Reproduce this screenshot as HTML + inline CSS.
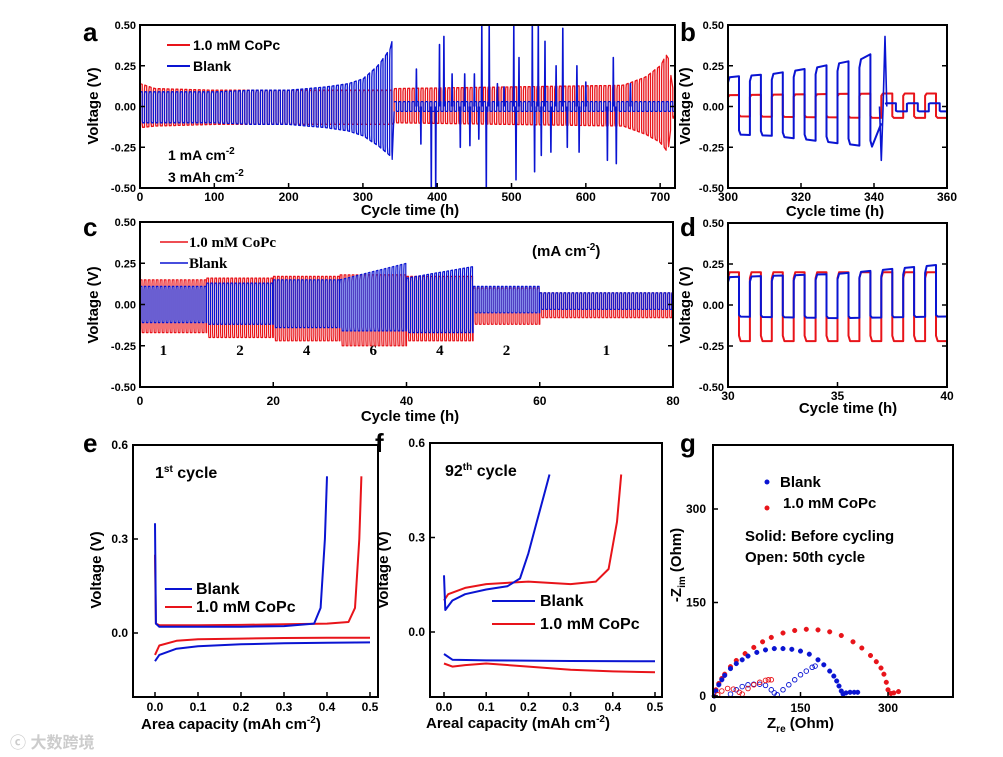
<!DOCTYPE html>
<html><head><meta charset="utf-8">
<style>
html,body{margin:0;padding:0;background:#fff;}
svg{display:block;font-family:"Liberation Sans",Arial,sans-serif;font-weight:bold;}
.serif{font-family:"Liberation Serif","Times New Roman",serif;}
</style></head>
<body>
<svg id="fig" width="1003" height="757" viewBox="0 0 1003 757" xmlns="http://www.w3.org/2000/svg">
<text x="10" y="748" font-size="16" fill="#ccc" font-family="Liberation Sans, Noto Sans CJK SC, sans-serif">ⓒ 大数跨境</text>
</svg>
<script>
// ---------- DATA ----------
const aBlueEnvT=[0,50,100,150,200,250,280,300,320,336,341,342,720];
const aBlueHi=[0.09,0.09,0.09,0.10,0.10,0.12,0.14,0.17,0.25,0.35,0.43,0.03,0.03];
const aBlueLo=[-0.10,-0.10,-0.10,-0.11,-0.11,-0.13,-0.15,-0.18,-0.24,-0.30,-0.34,-0.03,-0.03];
const aRedEnvT=[0,20,100,340,342,650,680,700,710,716,720];
const aRedHi=[0.14,0.11,0.10,0.10,0.11,0.13,0.18,0.25,0.33,0.12,0.10];
const aRedLo=[-0.13,-0.12,-0.11,-0.11,-0.10,-0.12,-0.17,-0.22,-0.28,-0.08,-0.05];
const aSpikeT=[372,378,392,398,403,409,420,431,437,444,450,456,460,466,470,481,490,503,506,510,528,531,536,540,545,553,560,569,575,588,591,600,629,637,641,660];
const aSpikeV=[0.23,-0.23,-0.5,-0.5,0.38,0.43,0.2,-0.25,0.2,-0.24,0.2,-0.2,0.5,-0.5,0.5,0.14,0.12,0.5,-0.45,0.3,0.5,-0.4,0.5,-0.3,0.4,-0.28,0.25,0.48,-0.25,0.25,-0.28,0.15,-0.33,0.3,-0.35,0.14];
const bBlueEnvT=[300,312,324,336,341,342.5,360];
const bBlueHi=[0.18,0.20,0.24,0.29,0.34,0.02,0.02];
const bBlueLo=[-0.17,-0.18,-0.21,-0.24,-0.25,-0.03,-0.03];
const bRedEnvT=[300,342,360];
const bRedHi=[0.07,0.08,0.08];
const bRedLo=[-0.06,-0.07,-0.07];
const bSpikeT=[342,343];
const bSpikeV=[-0.33,0.43];
const cSegStart=[0,10,20,30,40,50,60];
const cSegEnd=[10,20,30,40,50,60,80];
const cRate=["1","2","4","6","4","2","1"];
const cBlueHiStart=[0.11,0.13,0.15,0.15,0.16,0.11,0.07];
const cBlueHiEnd=[0.11,0.13,0.15,0.25,0.23,0.11,0.07];
const cBlueLo=[-0.11,-0.12,-0.14,-0.16,-0.17,-0.05,-0.03];
const cRedHi=[0.15,0.16,0.17,0.18,0.17,0.10,0.07];
const cRedLo=[-0.17,-0.20,-0.22,-0.25,-0.22,-0.12,-0.08];
const dBlueEnvT=[30,35,40];
const dBlueHi=[0.17,0.19,0.25];
const dBlueLo=[-0.07,-0.08,-0.07];
const dRedEnvT=[30,40];
const dRedHi=[0.20,0.20];
const dRedLo=[-0.22,-0.22];
const eBlueChgX=[0,0.002,0.01,0.1,0.2,0.3,0.37,0.385,0.395,0.40];
const eBlueChgY=[0.35,0.03,0.02,0.02,0.02,0.022,0.03,0.08,0.3,0.5];
const eBlueDisX=[0,0.01,0.05,0.1,0.2,0.3,0.4,0.5];
const eBlueDisY=[-0.09,-0.07,-0.05,-0.042,-0.036,-0.033,-0.031,-0.03];
const eRedChgX=[0,0.002,0.01,0.1,0.2,0.3,0.4,0.45,0.465,0.475,0.48];
const eRedChgY=[0.25,0.03,0.025,0.025,0.026,0.028,0.03,0.035,0.08,0.3,0.5];
const eRedDisX=[0,0.01,0.05,0.1,0.2,0.3,0.4,0.5];
const eRedDisY=[-0.07,-0.04,-0.025,-0.02,-0.018,-0.016,-0.015,-0.015];
const fBlueChgX=[0,0.003,0.02,0.05,0.1,0.15,0.18,0.2,0.22,0.24,0.25];
const fBlueChgY=[0.18,0.07,0.1,0.12,0.135,0.145,0.17,0.25,0.35,0.45,0.5];
const fBlueDisX=[0,0.02,0.1,0.3,0.5];
const fBlueDisY=[-0.07,-0.088,-0.09,-0.092,-0.093];
const fRedChgX=[0,0.01,0.05,0.1,0.2,0.3,0.36,0.39,0.41,0.42];
const fRedChgY=[0.1,0.12,0.14,0.152,0.16,0.152,0.16,0.2,0.35,0.5];
const fRedDisX=[0,0.02,0.05,0.1,0.2,0.3,0.4,0.5];
const fRedDisY=[-0.1,-0.11,-0.105,-0.1,-0.11,-0.12,-0.125,-0.128];
const gBlueSolidX=[2,5,10,15,20,30,40,50,60,75,90,105,120,135,150,165,180,190,200,207,212,216,220,223,228,235,242,248];
const gBlueSolidY=[0,8,18,26,33,44,52,58,64,70,74,76,76,75,72,67,58,50,40,32,24,16,8,3,5,6,6,6];
const gRedSolidX=[2,5,10,15,20,30,40,55,70,85,100,120,140,160,180,200,220,240,255,270,280,288,293,297,300,305,310,318];
const gRedSolidY=[0,10,20,28,35,47,57,68,78,87,94,101,105,107,106,103,97,87,77,65,55,45,35,22,10,4,5,7];
const gBlueOpenX=[30,40,50,60,70,80,90,100,105,110,120,130,140,150,160,170,175];
const gBlueOpenY=[3,10,15,18,19,19,17,10,5,2,10,18,26,34,40,46,48];
const gRedOpenX=[8,15,25,35,45,50,60,70,80,90,95,100];
const gRedOpenY=[2,8,12,11,6,3,12,18,22,25,26,26];
const voltTicks=[0.5,0.25,0,-0.25,-0.5];
const voltTickLabels=["0.50","0.25","0.00","-0.25","-0.50"];
const aXTicks=[0,100,200,300,400,500,600,700];
const bXTicks=[300,320,340,360];
const cXTicks=[0,20,40,60,80];
const dXTicks=[30,35,40];
const capXTicks=[0,0.1,0.2,0.3,0.4,0.5];
const capXLabels=["0.0","0.1","0.2","0.3","0.4","0.5"];
const capYTicks=[0,0.3,0.6];
const capYLabels=["0.0","0.3","0.6"];
const gTicks=[0,150,300];

// ---------- HELPERS ----------
const NS="http://www.w3.org/2000/svg";
const svg=document.getElementById('fig');
const RED="#e8141a", BLUE="#0a14d2";
function mk(tag,parent){const e=document.createElementNS(NS,tag);(parent||svg).appendChild(e);return e;}
function lin(d0,d1,r0,r1){return v=>r0+(v-d0)*(r1-r0)/(d1-d0);}
function interp(T,V,t){if(t<=T[0])return V[0];for(let i=1;i<T.length;i++){if(t<=T[i]){const f=(t-T[i-1])/(T[i]-T[i-1]);return V[i-1]+f*(V[i]-V[i-1]);}}return V[V.length-1];}
function txt(s,x,y,size,anchor,name,parent){const t=mk('text',parent);t.setAttribute('x',x);t.setAttribute('y',y);t.setAttribute('font-size',size);t.setAttribute('text-anchor',anchor||'start');t.textContent=s;


return t;}
function line(x1,y1,x2,y2,color,w,name,parent){const l=mk('line',parent);l.setAttribute('x1',x1);l.setAttribute('y1',y1);l.setAttribute('x2',x2);l.setAttribute('y2',y2);l.setAttribute('stroke',color);l.setAttribute('stroke-width',w);


return l;}
function poly(pts,color,w,name,parent){const p=mk('polyline',parent);p.setAttribute('points',pts.map(q=>q[0].toFixed(1)+','+q[1].toFixed(1)).join(' '));p.setAttribute('fill','none');p.setAttribute('stroke',color);p.setAttribute('stroke-width',w);p.setAttribute('stroke-linejoin','round');


return p;}
function group(name){const g=mk('g');


return g;}
function frame(x0,y0,x1,y1,g){const r=mk('rect',g);r.setAttribute('x',x0);r.setAttribute('y',y0);r.setAttribute('width',x1-x0);r.setAttribute('height',y1-y0);r.setAttribute('fill','none');r.setAttribute('stroke','#000');r.setAttribute('stroke-width',2);

}
function wave(T,Hi,Lo,t0,t1,period,phase,sx,sy){const pts=[];const half=period/2;let t=t0;let k=phase;const clip=v=>Math.max(-0.5,Math.min(0.5,v));
while(t<t1-1e-9){const te=Math.min(t+half,t1);const hiSeg=(k%2===0);const v0=hiSeg?interp(T,Hi,t):interp(T,Lo,t);const v1=hiSeg?interp(T,Hi,te):interp(T,Lo,te);
const vs=hiSeg? v0*0.82 : v0*0.85;pts.push([sx(t),sy(clip(vs))]);pts.push([sx(t+(te-t)*0.15),sy(clip(v0))]);pts.push([sx(te),sy(clip(v1))]);t=te;k++;}
return pts;}
function spikes(ST,SV,T,Hi,sx,sy,color,name,g){for(let i=0;i<ST.length;i++){const base=0;const v=Math.max(-0.5,Math.min(0.5,SV[i]));poly([[sx(ST[i]-0.5),sy(base)],[sx(ST[i]),sy(v)],[sx(ST[i]+0.5),sy(base)]],color,1.6,name,g);}}
function yAxisVolt(x0,y0,x1,sy,g){voltTicks.forEach((v,i)=>{line(x0,sy(v),x0+5,sy(v),'#000',1.5,'y-tick',g);line(x1,sy(v),x1-5,sy(v),'#000',1.5,'y-tick-right',g);txt(voltTickLabels[i],x0-4,sy(v)+4,11,'end','y-tick-label',g);});}
function xAxis(ticks,labels,sx,yb,g,ly){ticks.forEach((v,i)=>{line(sx(v),yb,sx(v),yb-5,'#000',1.5,'x-tick',g);txt(labels?labels[i]:String(v),sx(v),ly,12,'middle','x-tick-label',g);});}
function ylabel(s,x,y,size,name,g){const t=txt(s,x,y,size,'middle',name,g);t.setAttribute('transform','rotate(-90 '+x+' '+y+')');return t;}

// ---------- PANEL A ----------
(function(){const g=group('panel-a');const X0=140,X1=675,Y0=25,Y1=188;
const sx=lin(0,720,X0,X1), sy=lin(-0.5,0.5,Y1,Y0);
poly(wave(aRedEnvT,aRedHi,aRedLo,0,720,6,0,sx,sy),RED,1.3,'series-copc-a',g);
poly(wave(aBlueEnvT,aBlueHi,aBlueLo,0,342,6,0,sx,sy),BLUE,1.3,'series-blank-a',g);
poly(wave(aBlueEnvT,aBlueHi,aBlueLo,342,720,6,0,sx,sy),BLUE,1.3,'series-blank-a-late',g);
spikes(aSpikeT,aSpikeV,aBlueEnvT,aBlueHi,sx,sy,BLUE,'blank-spike',g);
frame(X0,Y0,X1,Y1,g);yAxisVolt(X0,Y0,X1,sy,g);xAxis(aXTicks,null,sx,Y1,g,201);
txt('Cycle time (h)',410,215,15,'middle','x-axis-title-a',g);ylabel('Voltage (V)',98,106,15,'y-axis-title-a',g);
txt('a',83,41,26,'start','panel-label-a',g);
line(167,45,190,45,RED,2,'legend-line-copc',g);txt('1.0 mM CoPc',193,50,14,'start','legend-copc',g);
line(167,66,190,66,BLUE,2,'legend-line-blank',g);txt('Blank',193,71,14,'start','legend-blank',g);
const t1=txt('1 mA cm',168,160,14,'start','current-density-label',g);const s1=mk('tspan',t1);s1.setAttribute('dy','-6');s1.setAttribute('font-size','10');s1.textContent='-2';
const t2=txt('3 mAh cm',168,182,14,'start','capacity-label',g);const s2=mk('tspan',t2);s2.setAttribute('dy','-6');s2.setAttribute('font-size','10');s2.textContent='-2';
})();

// ---------- PANEL B ----------
(function(){const g=group('panel-b');const X0=728,X1=947,Y0=25,Y1=188;
const sx=lin(300,360,X0,X1), sy=lin(-0.5,0.5,Y1,Y0);
poly(wave(bRedEnvT,bRedHi,bRedLo,300,360,6,0,sx,sy),RED,2,'series-copc-b',g);
poly(wave(bBlueEnvT,bBlueHi,bBlueLo,300,342,6,0,sx,sy),BLUE,2,'series-blank-b',g);
poly(wave(bBlueEnvT,bBlueHi,bBlueLo,343,360,6,0,sx,sy),BLUE,2,'series-blank-b-late',g);
spikes(bSpikeT,bSpikeV,bBlueEnvT,bBlueHi,sx,sy,BLUE,'blank-spike-b',g);
frame(X0,Y0,X1,Y1,g);yAxisVolt(X0,Y0,X1,sy,g);xAxis(bXTicks,null,sx,Y1,g,201);
txt('Cycle time (h)',835,216,15,'middle','x-axis-title-b',g);ylabel('Voltage (V)',690,106,15,'y-axis-title-b',g);
txt('b',680,41,26,'start','panel-label-b',g);
})();

// ---------- PANEL C ----------
(function(){const g=group('panel-c');const X0=140,X1=673,Y0=222,Y1=387;
const sx=lin(0,80,X0,X1), sy=lin(-0.5,0.5,Y1,Y0);
let rp=[],bp=[];
for(let i=0;i<cSegStart.length;i++){
 rp=rp.concat(wave([cSegStart[i],cSegEnd[i]],[cRedHi[i],cRedHi[i]],[cRedLo[i],cRedLo[i]],cSegStart[i],cSegEnd[i],0.6,0,sx,sy));
 bp=bp.concat(wave([cSegStart[i],cSegEnd[i]],[cBlueHiStart[i],cBlueHiEnd[i]],[cBlueLo[i],cBlueLo[i]],cSegStart[i],cSegEnd[i],0.6,0,sx,sy));
 txt(cRate[i],sx((cSegStart[i]+cSegEnd[i])/2)+(i==0?-10:0),355,15,'middle','rate-label',g).setAttribute('class','serif');
}
poly(rp,RED,1.2,'series-copc-c',g);poly(bp,BLUE,1.2,'series-blank-c',g);
frame(X0,Y0,X1,Y1,g);yAxisVolt(X0,Y0,X1,sy,g);xAxis(cXTicks,null,sx,Y1,g,405);
txt('Cycle time (h)',410,421,15,'middle','x-axis-title-c',g);ylabel('Voltage (V)',98,305,15,'y-axis-title-c',g);
txt('c',83,236,26,'start','panel-label-c',g);
line(160,242,188,242,RED,1.5,'legend-line-copc-c',g);txt('1.0 mM CoPc',189,247,15,'start','legend-copc-c',g).setAttribute('class','serif');
line(160,263,188,263,BLUE,1.5,'legend-line-blank-c',g);txt('Blank',189,268,15,'start','legend-blank-c',g).setAttribute('class','serif');
const t=txt('(mA cm',532,256,15,'start','rate-unit-label',g);const s=mk('tspan',t);s.setAttribute('dy','-6');s.setAttribute('font-size','10');s.textContent='-2';const s2=mk('tspan',t);s2.setAttribute('dy','6');s2.textContent=')';
})();

// ---------- PANEL D ----------
(function(){const g=group('panel-d');const X0=728,X1=947,Y0=223,Y1=387;
const sx=lin(30,40,X0,X1), sy=lin(-0.5,0.5,Y1,Y0);
poly(wave(dRedEnvT,dRedHi,dRedLo,30,40,1,0,sx,sy),RED,2,'series-copc-d',g);
poly(wave(dBlueEnvT,dBlueHi,dBlueLo,30,40,1,0,sx,sy),BLUE,2,'series-blank-d',g);
frame(X0,Y0,X1,Y1,g);yAxisVolt(X0,Y0,X1,sy,g);xAxis(dXTicks,null,sx,Y1,g,400);
txt('Cycle time (h)',848,413,15,'middle','x-axis-title-d',g);ylabel('Voltage (V)',690,305,15,'y-axis-title-d',g);
txt('d',680,236,26,'start','panel-label-d',g);
})();

// ---------- PANELS E & F ----------
function capPanel(name,X0,X1,Y0,Y1,zx,fx,zy,sets,g){const sx=lin(0,0.5,zx,fx), sy=lin(0,0.6,zy,Y0);
sets.forEach(s=>poly(s[0].map((v,i)=>[sx(v),sy(s[1][i])]),s[2],2,s[3],g));
frame(X0,Y0,X1,Y1,g);
capXTicks.forEach((v,i)=>{line(sx(v),Y1,sx(v),Y1-5,'#000',1.5,'x-tick',g);txt(capXLabels[i],sx(v),Y1+14,12,'middle','x-tick-label',g);});
capYTicks.forEach((v,i)=>{line(X0,sy(v),X0+5,sy(v),'#000',1.5,'y-tick',g);txt(capYLabels[i],X0-5,sy(v)+4,12,'end','y-tick-label',g);});}
(function(){const g=group('panel-e');
capPanel('e',133,378,445,697,155,370,633,[[eRedDisX,eRedDisY,RED,'copc-discharge-e'],[eRedChgX,eRedChgY,RED,'copc-charge-e'],[eBlueDisX,eBlueDisY,BLUE,'blank-discharge-e'],[eBlueChgX,eBlueChgY,BLUE,'blank-charge-e']],g);
const t=txt('Area capacity (mAh cm',141,729,15,'start','x-axis-title-e',g);const s=mk('tspan',t);s.setAttribute('dy','-6');s.setAttribute('font-size','10');s.textContent='-2';const s2=mk('tspan',t);s2.setAttribute('dy','6');s2.textContent=')';
ylabel('Voltage (V)',101,570,15,'y-axis-title-e',g);txt('e',83,452,26,'start','panel-label-e',g);
const c=txt('1',155,478,16,'start','cycle-label-e',g);const sp=mk('tspan',c);sp.setAttribute('dy','-6');sp.setAttribute('font-size','10');sp.textContent='st';const sp2=mk('tspan',c);sp2.setAttribute('dy','6');sp2.textContent=' cycle';
line(165,589,192,589,BLUE,2,'legend-line-blank-e',g);txt('Blank',196,594,16,'start','legend-blank-e',g);
line(165,607,192,607,RED,2,'legend-line-copc-e',g);txt('1.0 mM CoPc',196,612,16,'start','legend-copc-e',g);
})();
(function(){const g=group('panel-f');
capPanel('f',430,662,443,697,444,655,632,[[fRedDisX,fRedDisY,RED,'copc-discharge-f'],[fRedChgX,fRedChgY,RED,'copc-charge-f'],[fBlueDisX,fBlueDisY,BLUE,'blank-discharge-f'],[fBlueChgX,fBlueChgY,BLUE,'blank-charge-f']],g);
const t=txt('Areal capacity (mAh cm',426,728,15,'start','x-axis-title-f',g);const s=mk('tspan',t);s.setAttribute('dy','-6');s.setAttribute('font-size','10');s.textContent='-2';const s2=mk('tspan',t);s2.setAttribute('dy','6');s2.textContent=')';
ylabel('Voltage (V)',388,570,15,'y-axis-title-f',g);txt('f',375,452,26,'start','panel-label-f',g);
const c=txt('92',445,476,16,'start','cycle-label-f',g);const sp=mk('tspan',c);sp.setAttribute('dy','-6');sp.setAttribute('font-size','10');sp.textContent='th';const sp2=mk('tspan',c);sp2.setAttribute('dy','6');sp2.textContent=' cycle';
line(492,601,535,601,BLUE,2,'legend-line-blank-f',g);txt('Blank',540,606,16,'start','legend-blank-f',g);
line(492,624,535,624,RED,2,'legend-line-copc-f',g);txt('1.0 mM CoPc',540,629,16,'start','legend-copc-f',g);
})();

// ---------- PANEL G ----------
(function(){const g=group('panel-g');const X0=713,X1=953,Y0=445,Y1=697;
const sx=lin(0,300,713,888), sy=lin(0,300,696,509);
function dots(X,Y,color,open,name){for(let i=0;i<X.length;i++){const c=mk('circle',g);c.setAttribute('cx',sx(X[i]).toFixed(1));c.setAttribute('cy',sy(Y[i]).toFixed(1));c.setAttribute('r',2.3);c.setAttribute('fill',open?'none':color);c.setAttribute('stroke',color);c.setAttribute('stroke-width',open?0.9:0.5);

}}
dots(gRedSolidX,gRedSolidY,RED,false,'copc-before-point');dots(gBlueSolidX,gBlueSolidY,BLUE,false,'blank-before-point');
dots(gBlueOpenX,gBlueOpenY,BLUE,true,'blank-50th-point');dots(gRedOpenX,gRedOpenY,RED,true,'copc-50th-point');
frame(X0,Y0,X1,Y1,g);
gTicks.forEach(v=>{line(sx(v),Y1,sx(v),Y1-5,'#000',1.5,'x-tick',g);txt(String(v),sx(v),Y1+15,12,'middle','x-tick-label',g);
line(X0,sy(v),X0+5,sy(v),'#000',1.5,'y-tick',g);txt(String(v),X0-7,sy(v)+4,12,'end','y-tick-label',g);});
const t=txt('Z',767,728,15,'start','x-axis-title-g',g);const s=mk('tspan',t);s.setAttribute('dy','4');s.setAttribute('font-size','10');s.textContent='re';const s2=mk('tspan',t);s2.setAttribute('dy','-4');s2.textContent=' (Ohm)';
const ty=ylabel('-Z',681,565,15,'y-axis-title-g',g);const u=mk('tspan',ty);u.setAttribute('dy','4');u.setAttribute('font-size','10');u.textContent='im';const u2=mk('tspan',ty);u2.setAttribute('dy','-4');u2.textContent=' (Ohm)';
txt('g',680,452,26,'start','panel-label-g',g);
const l1=mk('circle',g);l1.setAttribute('cx',767);l1.setAttribute('cy',482);l1.setAttribute('r',2.5);l1.setAttribute('fill',BLUE);


const l2=mk('circle',g);l2.setAttribute('cx',767);l2.setAttribute('cy',508);l2.setAttribute('r',2.5);l2.setAttribute('fill',RED);


txt('Blank',780,487,15,'start','legend-blank-g',g);txt('1.0 mM CoPc',783,508,15,'start','legend-copc-g',g);
txt('Solid: Before cycling',745,541,15,'start','note-solid',g);txt('Open: 50th cycle',745,562,15,'start','note-open',g);
})();
</script>
</body></html>
